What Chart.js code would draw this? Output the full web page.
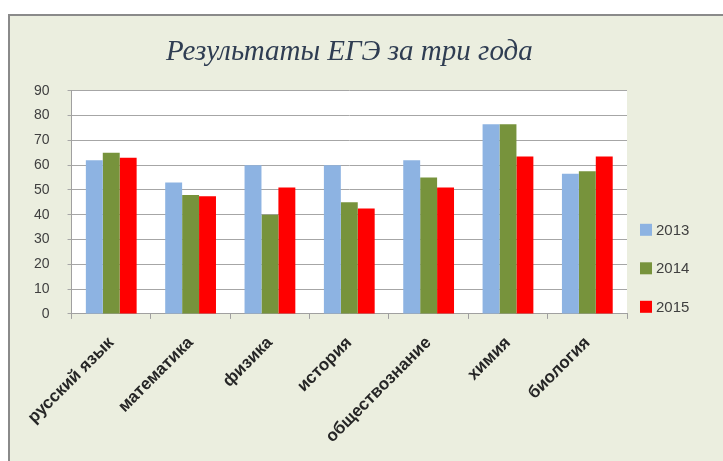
<!DOCTYPE html>
<html>
<head>
<meta charset="utf-8">
<script src="https://cdn.jsdelivr.net/npm/chart.js@4.4.1/dist/chart.umd.min.js"></script>
<style>
  html, body { margin: 0; padding: 0; background: #fff; }
  #frame {
    position: absolute; left: 8px; top: 14px; width: 715px; height: 447px;
    border-left: 2px solid #8a8a8a; border-top: 2px solid #8a8a8a;
    background: #ebeedf;
  }
  #wrap { position: absolute; left: 0; top: 0; width: 713px; height: 445px; }
</style>
</head>
<body>
<div id="frame"><div id="wrap"><canvas id="chart"></canvas></div></div>
<script>
// Результаты ЕГЭ за три года — grouped bars

const subjects = ['русский язык', 'математика', 'физика', 'история', 'обществознание', 'химия', 'биология'];
const years    = ['2013', '2014', '2015'];
const scores2013 = [62, 53, 60, 60, 62, 76.5, 56.5];
const scores2014 = [65, 48, 40, 45, 55, 76.5, 57.5];
const scores2015 = [63, 47.5, 51, 42.5, 51, 63.5, 63.5];
const yTicks = [0, 10, 20, 30, 40, 50, 60, 70, 80, 90];

const colors = ['#8db3e2', '#77933c', '#ff0000'];

// white plot area like the Excel original
const plotBg = {
  id: 'plotBg',
  beforeDraw(chart) {
    const { ctx, chartArea: a } = chart;
    ctx.save();
    ctx.fillStyle = '#ffffff';
    ctx.fillRect(a.left, a.top, a.right - a.left, a.bottom - a.top);
    ctx.restore();
  },
};

// legend to the right of the plot, lower half like in Excel
const sideLegend = {
  id: 'sideLegend',
  afterDraw(chart) {
    const { ctx, chartArea: a } = chart;
    ctx.save();
    ctx.font = '15px "Liberation Sans"';
    ctx.textBaseline = 'middle';
    chart.data.datasets.forEach((ds, i) => {
      const x = a.right + 13;
      const y = a.top + 139 + i * 38.5;
      ctx.fillStyle = ds.backgroundColor;
      ctx.fillRect(x, y - 6, 12, 12);
      ctx.fillStyle = '#404040';
      ctx.fillText(ds.label, x + 16, y + 1);
    });
    ctx.restore();
  },
};

new Chart(document.getElementById('chart'), {
  type: 'bar',
  data: {
    labels: subjects,
    datasets: [scores2013, scores2014, scores2015].map((d, i) => ({
      label: years[i],
      data: d,
      backgroundColor: colors[i],
      borderWidth: 0,
      barPercentage: 1,
      categoryPercentage: 0.64,
    })),
  },
  options: {
    responsive: true,
    maintainAspectRatio: false,
    animation: false,
    layout: { padding: { left: 6, right: 96, top: 0, bottom: 0 } },
    plugins: {
      title: {
        display: true,
        fullSize: false,
        text: 'Результаты ЕГЭ за три года',
        color: '#2f3d52',
        font: { family: 'Liberation Serif', size: 29, style: 'italic', weight: 'normal' },
        padding: { top: 19, bottom: 21 },
      },
      legend: { display: false },
      tooltip: { enabled: false },
    },
    scales: {
      x: {
        grid: { display: true, drawOnChartArea: false, color: '#a0a0a0', tickLength: 5, offset: true },
        border: { color: '#a0a0a0' },
        ticks: {
          color: '#262626',
          font: { family: 'Liberation Sans', size: 17, weight: 'bold' },
          minRotation: 45, maxRotation: 45, padding: 14,
        },
      },
      y: {
        min: 0, max: 90,
        afterBuildTicks: axis => { axis.ticks = yTicks.map(v => ({ value: v })); },
        grid: { color: '#a6a6a6', tickLength: 4 },
        border: { color: '#a0a0a0' },
        ticks: {
          color: '#404040',
          font: { family: 'Liberation Sans', size: 14 },
          padding: 18,
        },
      },
    },
  },
  plugins: [plotBg, sideLegend],
});
</script>
</body>
</html>
